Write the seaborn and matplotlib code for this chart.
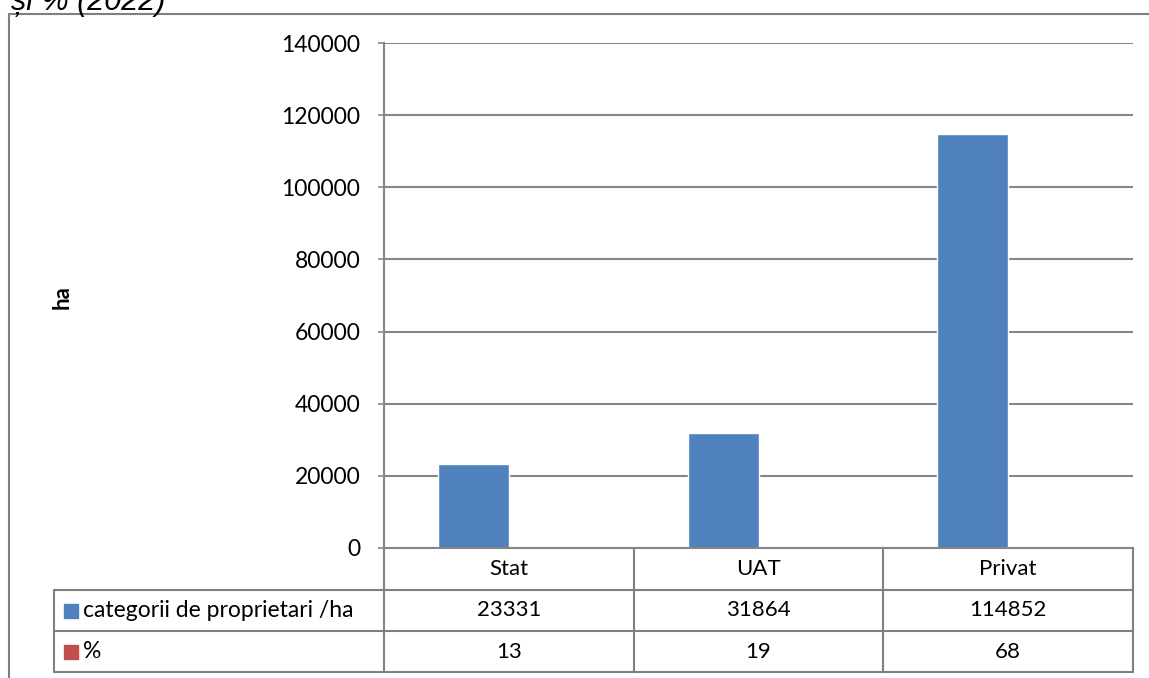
import matplotlib
matplotlib.use("Agg")
import matplotlib.pyplot as plt
from matplotlib.lines import Line2D
import seaborn as sns
import pandas as pd

# Data
categorii = ["Stat", "UAT", "Privat"]
suprafata_ha = [23331, 31864, 114852]
procent = [13, 19, 68]
serii = ["categorii de proprietari /ha", "%"]
culori = ["#4F81BD", "#C0504D"]
y_ticks = [0, 20000, 40000, 60000, 80000, 100000, 120000, 140000]

df = pd.DataFrame({
    "categorie": categorii * 2,
    "serie": [serii[0]] * 3 + [serii[1]] * 3,
    "valoare": suprafata_ha + procent,
})

sns.set_theme(style="white")
plt.rcParams["font.family"] = ["Lato", "DejaVu Sans"]
plt.rcParams["text.color"] = "black"
plt.rcParams["ytick.color"] = "black"

W, H = 1149, 678
fig = plt.figure(figsize=(W / 100, H / 100), dpi=100)
ax = fig.add_axes([384 / W, 1 - 548 / H, (1133 - 384) / W, (548 - 43) / H])

sns.barplot(data=df, x="categorie", y="valoare", hue="serie", hue_order=serii,
            palette=culori, width=0.568, saturation=1, ax=ax, legend=False)

ax.set_xlim(-0.5, 2.5)
ax.set_ylim(0, 140000)
ax.set_yticks(y_ticks)
ax.set_yticklabels([str(t) for t in y_ticks], fontsize=16.5)
ax.set_xticks([])
ax.set_xlabel("")
ax.set_ylabel("")
ax.yaxis.grid(True, color="#868686", linewidth=1.5)
ax.set_axisbelow(True)
for s in ["top", "right"]:
    ax.spines[s].set_visible(False)
for s in ["left", "bottom"]:
    ax.spines[s].set_color("#868686")
    ax.spines[s].set_linewidth(1.5)
ax.tick_params(axis="y", which="both", left=True, length=4, width=1.2,
               color="#868686", labelcolor="black", pad=13)

# data table under the plot
lc = "#808080"
trans = ax.get_xaxis_transform()
rows = [0, -42 / 505, -83 / 505, -124 / 505]
left_lab = (54 - 384) / 749

def linie(xs, ys, tr):
    ax.add_line(Line2D(xs, ys, transform=tr, color=lc, lw=1.5, clip_on=False))

for yb in rows[1:]:
    linie([left_lab, 1], [yb, yb], ax.transAxes)
linie([left_lab, left_lab], [rows[1], rows[3]], ax.transAxes)
for xb in [-0.5, 0.5, 1.5, 2.5]:
    linie([xb, xb], [0, rows[3]], trans)

for i, cat in enumerate(categorii):
    ax.text(i, (rows[0] + rows[1]) / 2, cat, transform=trans,
            ha="center", va="center", fontsize=16)
    ax.text(i, (rows[1] + rows[2]) / 2, str(suprafata_ha[i]), transform=trans,
            ha="center", va="center", fontsize=16)
    ax.text(i, (rows[2] + rows[3]) / 2, str(procent[i]), transform=trans,
            ha="center", va="center", fontsize=16)

for j, (serie, col) in enumerate(zip(serii, culori)):
    ym = (rows[j + 1] + rows[j + 2]) / 2
    ax.add_line(Line2D([left_lab + 17 / 749], [ym], transform=ax.transAxes,
                       marker="s", markersize=10, color=col, clip_on=False))
    ax.text(left_lab + 29 / 749, ym, serie, transform=ax.transAxes,
            ha="left", va="center", fontsize=16.5)

# y label and outer frame
fig.text(62 / W, 1 - 297 / H, "ha", rotation=90, ha="center", va="center",
         fontsize=16, fontweight="bold")
fig.add_artist(Line2D([9 / W, 9 / W], [0, 1 - 14 / H], color=lc, lw=1.5))
fig.add_artist(Line2D([9 / W, 1], [1 - 14 / H, 1 - 14 / H], color=lc, lw=1.5))
fig.text(11 / W, 1 - 10 / H, "și % (2022)", ha="left", va="baseline",
         fontsize=22, style="italic", family=["Liberation Sans", "DejaVu Sans"])

fig.savefig("out.png", dpi=100)
